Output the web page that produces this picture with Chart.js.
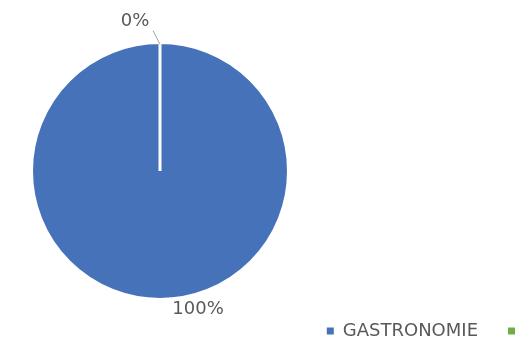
<!DOCTYPE html>
<html>
<head>
<meta charset="utf-8">
<script src="https://cdn.jsdelivr.net/npm/chart.js@4/dist/chart.umd.min.js"></script>
<style>
  html, body { margin: 0; padding: 0; background: #fff; }
  #wrap { width: 525px; height: 338px; }
</style>
</head>
<body>
<div id="wrap"><canvas id="canvas"></canvas></div>
<script>
const categories = ['GASTRONOMIE', '']
const values = [100, 0]
const percentLabels = ['100%', '0%']
const colors = ['#4672b9', '#70ad47']

// where each percent label sits relative to its slice's outer edge
const labelOffsets = [
  { dx: 38, dy: 10, leader: false },
  { dx: -25, dy: -21, leader: true },
]

// keep the pie on the left, with a fixed square box
const pieBox = { left: 30, top: 41, size: 260 }

const pieLeft = {
  id: 'pieLeft',
  afterLayout(chart) {
    const a = chart.chartArea
    a.left = pieBox.left
    a.top = pieBox.top
    a.right = pieBox.left + pieBox.size
    a.bottom = pieBox.top + pieBox.size
    a.width = pieBox.size
    a.height = pieBox.size
  },
}

const percentText = {
  id: 'percentText',
  afterDatasetsDraw(chart) {
    const ctx = chart.ctx
    const meta = chart.getDatasetMeta(0)
    ctx.save()
    ctx.font = '18px "DejaVu Sans"'
    ctx.fillStyle = '#595959'
    ctx.textAlign = 'center'
    ctx.textBaseline = 'middle'
    meta.data.forEach((arc, i) => {
      const mid = (arc.startAngle + arc.endAngle) / 2
      const ex = arc.x + Math.cos(mid) * arc.outerRadius
      const ey = arc.y + Math.sin(mid) * arc.outerRadius
      const off = labelOffsets[i]
      const tx = ex + off.dx
      const ty = ey + off.dy
      if (off.leader) {
        ctx.strokeStyle = '#a6a6a6'
        ctx.lineWidth = 1
        ctx.beginPath()
        ctx.moveTo(ex, ey + 2)
        ctx.lineTo(tx + 18, ty + 9)
        ctx.stroke()
      }
      ctx.fillText(percentLabels[i], tx, ty)
    })
    ctx.restore()
  },
}

const data = {
  labels: categories,
  datasets: [
    {
      data: values,
      backgroundColor: colors,
      borderColor: '#ffffff',
      borderWidth: 3,
    },
  ],
}

const config = {
  type: 'pie',
  data: data,
  options: {
    responsive: true,
    maintainAspectRatio: false,
    animation: false,
    layout: { padding: { right: -29, bottom: -12 } },
    plugins: {
      tooltip: { enabled: false },
      legend: {
        position: 'bottom',
        align: 'end',
        labels: {
          font: { family: 'DejaVu Sans', size: 18 },
          color: '#595959',
          boxWidth: 7,
          boxHeight: 7,
          padding: 30,
          // solid legend squares, without the slice border
          generateLabels(chart) {
            const items = Chart.overrides.pie.plugins.legend.labels.generateLabels(chart)
            items.forEach(item => { item.lineWidth = 0 })
            return items
          },
        },
      },
    },
  },
  plugins: [pieLeft, percentText],
}

const canvas = document.getElementById('canvas')
const chart = new Chart(canvas, config)
</script>
</body>
</html>
